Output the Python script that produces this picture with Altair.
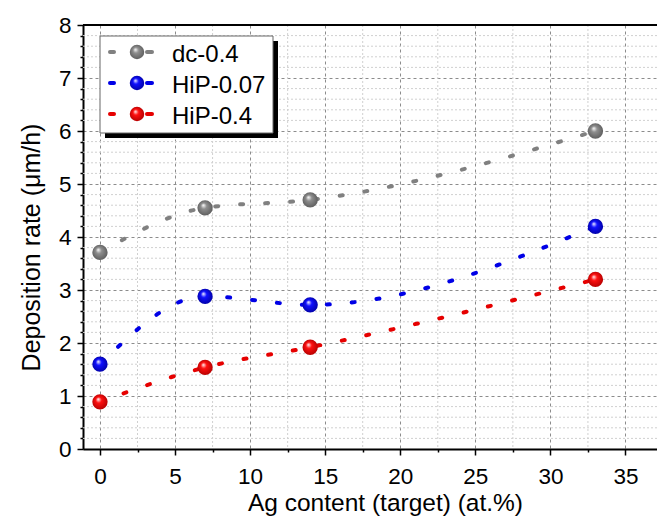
import altair as alt
import pandas as pd

# ---- data ----
ag_content = [0, 7, 14, 33]
dc_04 = [3.71, 4.55, 4.70, 6.00]
hip_007 = [1.60, 2.88, 2.72, 4.20]
hip_04 = [0.89, 1.54, 1.92, 3.20]

series_names = ["dc-0.4", "HiP-0.07", "HiP-0.4"]
series_values = [dc_04, hip_007, hip_04]
line_colors = ["#808080", "#0000e6", "#e60000"]
sphere_mid = ["#8e8e8e", "#1010ff", "#ff1010"]
sphere_dark = ["#5a5a5a", "#0000a0", "#b00000"]

x_major = [0, 5, 10, 15, 20, 25, 30, 35]
x_minor = [2.5, 7.5, 12.5, 17.5, 22.5, 27.5, 32.5]
y_major = [0, 1, 2, 3, 4, 5, 6, 7, 8]
y_minor = [round(i * 0.2, 1) for i in range(41) if i % 5 != 0]

W, H = 574, 424
FONT = "Liberation Sans"

xscale = alt.Scale(domain=[-1.13, 37.1], nice=False, zero=False)
yscale = alt.Scale(domain=[0, 8], nice=False, zero=False)

rows = []
for name, vals in zip(series_names, series_values):
    for x, v in zip(ag_content, vals):
        rows.append({"series": name, "ag": x, "rate": v})
df = pd.DataFrame(rows)


def sphere(mid, dark):
    return alt.RadialGradient(
        gradient="radial",
        x1=0.38, y1=0.32, r1=0.0,
        x2=0.5, y2=0.5, r2=0.55,
        stops=[
            alt.GradientStop(offset=0.0, color="#ffffff"),
            alt.GradientStop(offset=0.35, color=mid),
            alt.GradientStop(offset=1.0, color=dark),
        ],
    )


# minor grid + minor ticks
minor_y_layer = alt.Chart(pd.DataFrame({"v": y_minor})).mark_rule(
    color="#d0d0d0", strokeDash=[2, 2], strokeWidth=1
).encode(
    y=alt.Y("v:Q", scale=yscale,
            axis=alt.Axis(orient="left", values=y_minor, labels=False, domain=False,
                          grid=False, ticks=True, tickSize=3, tickColor="black",
                          tickWidth=1.5, title=None))
)
minor_x_layer = alt.Chart(pd.DataFrame({"v": x_minor})).mark_rule(
    color="#d0d0d0", strokeDash=[2, 2], strokeWidth=1
).encode(
    x=alt.X("v:Q", scale=xscale,
            axis=alt.Axis(orient="bottom", values=x_minor, labels=False, domain=False,
                          grid=False, ticks=True, tickSize=3, tickColor="black",
                          tickWidth=1.5, title=None))
)

x_enc = alt.X("ag:Q", scale=xscale,
              axis=alt.Axis(orient="bottom", values=x_major, format="d", grid=True,
                            gridColor="#8c8c8c", gridDash=[3, 3], gridWidth=1,
                            domainColor="black", domainWidth=2, tickColor="black",
                            tickWidth=1.5, tickSize=6,
                            labelFont=FONT, labelFontSize=22.5, labelColor="black",
                            labelBaseline="alphabetic", labelPadding=28, labelFlush=False,
                            title="Ag content (target) (at.%)", titleFont=FONT,
                            titleFontSize=24.5, titleFontWeight="normal", titleColor="black",
                            titleX=302, titleY=61, titleBaseline="alphabetic",
                            titleAlign="center"))
y_enc = alt.Y("rate:Q", scale=yscale,
              axis=alt.Axis(orient="left", values=y_major, format="d", grid=True,
                            gridColor="#8c8c8c", gridDash=[3, 3], gridWidth=1,
                            domainColor="black", domainWidth=2, tickColor="black",
                            tickWidth=1.5, tickSize=6,
                            labelFont=FONT, labelFontSize=22.5, labelColor="black",
                            labelPadding=6, labelFlush=False,
                            title="Deposition rate (μm/h)", titleFont=FONT,
                            titleFontSize=25, titleFontWeight="normal", titleColor="black",
                            titleAngle=-90, titleX=-44, titleY=222,
                            titleBaseline="alphabetic", titleAlign="center"))

layers = [minor_y_layer, minor_x_layer]

main_layers = []
for i, name in enumerate(series_names):
    sub = alt.Chart(df[df.series == name])
    line = sub.mark_line(
        interpolate="monotone", color=line_colors[i], strokeWidth=4,
        strokeDash=[3, 22], strokeCap="round"
    ).encode(x=x_enc, y=y_enc)
    pts = sub.mark_circle(
        size=235, opacity=1, fill=sphere(sphere_mid[i], sphere_dark[i]), strokeWidth=0
    ).encode(x=x_enc, y=y_enc)
    main_layers += [line, pts]

main = alt.layer(*main_layers)

# top frame line
one = pd.DataFrame({"k": [0]})
top_line = alt.Chart(one).mark_rule(color="black", strokeWidth=2).encode(
    x=alt.value(0), x2=alt.value(W), y=alt.value(0)
)

# legend (decoration)
leg = []
leg.append(alt.Chart(one).mark_rect(color="black").encode(
    x=alt.value(22), x2=alt.value(195), y=alt.value(16), y2=alt.value(113)))
leg.append(alt.Chart(one).mark_rect(fill="white", stroke="#666666", strokeWidth=1).encode(
    x=alt.value(17), x2=alt.value(190), y=alt.value(11), y2=alt.value(108)))
for i, name in enumerate(series_names):
    yy = 27 + 31 * i
    for (a, b) in [(27, 31), (64, 69)]:
        leg.append(alt.Chart(one).mark_rule(
            color=line_colors[i], strokeWidth=4, strokeCap="round").encode(
            x=alt.value(a), x2=alt.value(b), y=alt.value(yy)))
    leg.append(alt.Chart(one).mark_circle(
        size=210, opacity=1, fill=sphere(sphere_mid[i], sphere_dark[i]), strokeWidth=0
    ).encode(x=alt.value(54), y=alt.value(yy)))
    leg.append(alt.Chart(pd.DataFrame({"name": [name]})).mark_text(
        align="left", baseline="alphabetic", font=FONT, fontSize=24, color="black"
    ).encode(x=alt.value(89), y=alt.value(yy + 10), text="name:N"))

chart = alt.layer(*layers, main, top_line, *leg).resolve_axis(
    x="independent", y="independent"
).properties(
    width=W, height=H,
    padding={"left": 83, "top": 25, "right": 0, "bottom": 74},
    autosize=alt.AutoSizeParams(type="none"),
).configure_view(stroke=None).configure(background="white")

chart.save("out.html", embed_options={"renderer": "svg", "actions": False})
